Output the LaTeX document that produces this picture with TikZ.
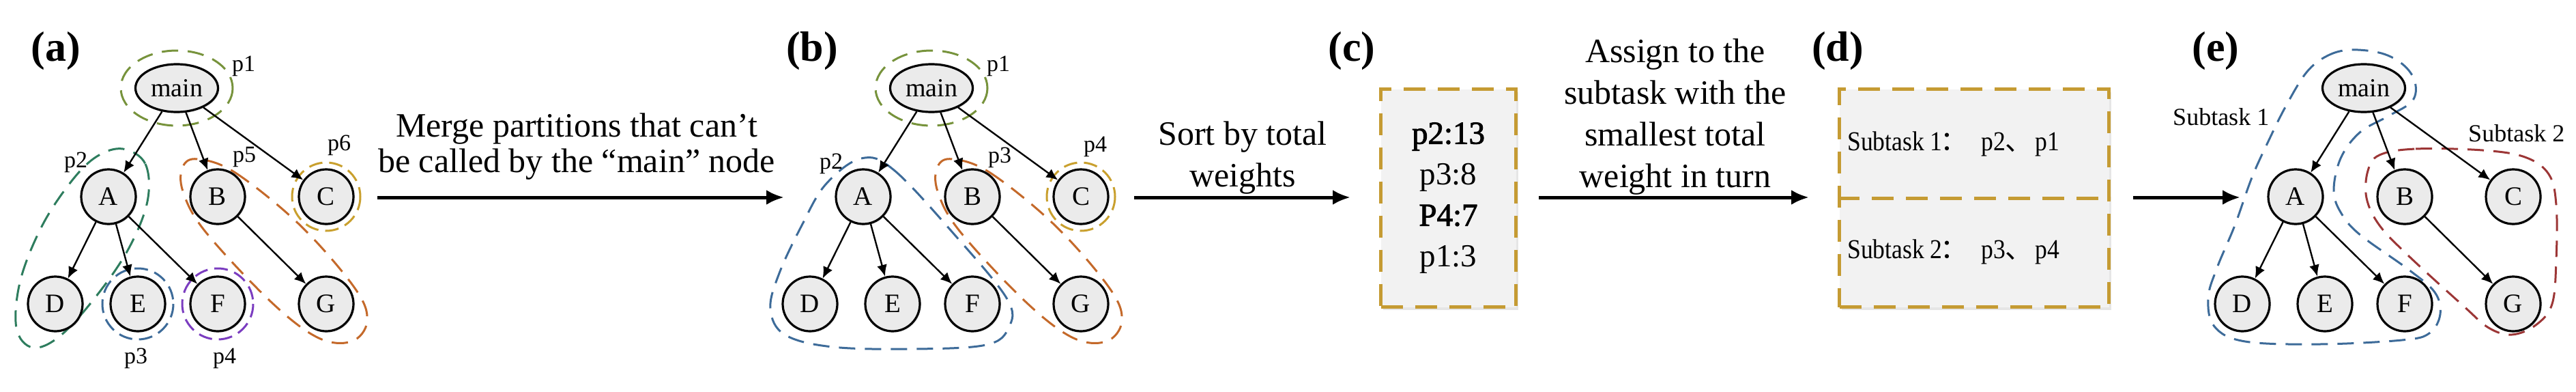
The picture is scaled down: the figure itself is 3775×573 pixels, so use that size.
\documentclass[tikz,border=0pt]{standalone}
\usepackage{fontspec}
\setmainfont{Liberation Serif}
\newfontfamily\cjkfont{Noto Sans CJK SC}
\newfontfamily\condfont[FakeStretch=0.89]{Liberation Serif}
\newfontfamily\heavyfont[FakeBold=2]{Liberation Serif}
\usetikzlibrary{arrows.meta,shapes.geometric,shadows}
\pgfdeclarelayer{bg}
\pgfsetlayers{bg,main}
\definecolor{nodefill}{HTML}{EBEBEB}
\definecolor{olivec}{HTML}{77933C}
\definecolor{greenc}{HTML}{2E7D5E}
\definecolor{bluec}{HTML}{3D6B99}
\definecolor{purplec}{HTML}{7B3DC0}
\definecolor{orangec}{HTML}{C4692A}
\definecolor{goldc}{HTML}{C9A02E}
\definecolor{redc}{HTML}{9C3636}
\definecolor{boxgold}{HTML}{C59B33}
\definecolor{boxfill}{HTML}{F2F2F2}
\newcommand{\drawcallgraph}[2]{%
  \node[mnode] (#1main) at ({259+#2},129) {main};
  \node[gnode] (#1A) at ({159+#2},288) {A};
  \node[gnode] (#1B) at ({319+#2},288) {B};
  \node[gnode] (#1C) at ({478+#2},288) {C};
  \node[gnode] (#1D) at ({81+#2},445) {D};
  \node[gnode] (#1E) at ({202+#2},445) {E};
  \node[gnode] (#1F) at ({319+#2},445) {F};
  \node[gnode] (#1G) at ({478+#2},445) {G};
  \foreach \s/\t in {main/A,main/B,main/C,A/D,A/E,A/F,B/G}
    \draw[edgearrow] (#1\s) -- (#1\t);
}
\newcommand{\subtaskline}[3]{%
  \makebox[136pt][l]{Subtask #1}\makebox[60pt][l]{{\cjkfont ：}}\makebox[35pt][l]{#2}\makebox[44pt][l]{{\cjkfont 、}}#3}
\begin{document}
\begin{tikzpicture}[x=1pt,y=-1pt,
  gnode/.style={circle, draw, line width=3.2pt, fill=nodefill, minimum size=80pt, inner sep=0pt,
    font=\fontsize{39}{39}\selectfont,
    drop shadow={shadow xshift=2pt, shadow yshift=-2pt, opacity=0.18}},
  mnode/.style={ellipse, draw, line width=3.2pt, fill=nodefill, minimum width=121pt, minimum height=70pt,
    inner sep=0pt, font=\fontsize{38}{38}\selectfont,
    drop shadow={shadow xshift=2pt, shadow yshift=-2pt, opacity=0.18}},
  edgearrow/.style={-{Latex[length=17pt,width=15pt]}, line width=2.4pt},
  bigarrow/.style={-{Latex[length=26pt,width=22pt]}, line width=5pt},
  part/.style={line width=3pt, dash pattern=on 24pt off 14pt},
  ring/.style={line width=3pt, dash pattern=on 20pt off 10pt},
  plabel/.style={font=\fontsize{34}{34}\selectfont, inner sep=0pt},
  panel/.style={font=\bfseries\fontsize{62}{62}\selectfont, inner sep=0pt},
  steptext/.style={font=\fontsize{50}{61}\selectfont, align=center, inner sep=0pt},
  gbox/.style={draw=boxgold, dash pattern=on 32pt off 18pt, line width=5pt, fill=boxfill,
    drop shadow={shadow xshift=3pt, shadow yshift=-4pt, opacity=0.2}},
  boxline/.style={draw=boxgold, dash pattern=on 32pt off 18pt, line width=5pt},
  ctext/.style={font=\fontsize{47}{60}\selectfont, align=center, inner sep=0pt},
  dtext/.style={font=\condfont\fontsize{40}{40}\selectfont, inner sep=0pt},
  etext/.style={font=\fontsize{36}{36}\selectfont, inner sep=0pt}
]
\useasboundingbox (0,0) rectangle (3775,573);

% panel labels
\node[panel] (la) at (82,75) {(a)};
\node[panel] (lb) at (1190,75) {(b)};
\node[panel] (lc) at (1981,75) {(c)};
\node[panel] (ld) at (2693,75) {(d)};
\node[panel] (le) at (3247,75) {(e)};

% graphs
\drawcallgraph{a}{0}
\drawcallgraph{b}{1106}
\drawcallgraph{e}{3205}

\begin{pgfonlayer}{bg}
% partitions of (a)
  \draw[part, draw=olivec] (amain.center) ellipse [x radius=82, y radius=55];
  \draw[part, draw=greenc] plot[smooth cycle, tension=0.6] coordinates {
    (180,218) (213,240) (216,295) (188,365) (140,435) (88,492) (48,509) (24,480)
    (30,410) (62,330) (105,265) (142,229)};
  \draw[ring, draw=bluec] (aE.center) circle [radius=52];
  \draw[ring, draw=purplec] (aF.center) circle [radius=52];
  \draw[ring, draw=goldc] (aC.center) circle [radius=50];
  \draw[part, draw=orangec] plot[smooth cycle, tension=0.6] coordinates {
    (290,233) (345,253) (440,330) (520,422) (538,470) (515,500) (465,494)
    (395,440) (300,338) (268,280) (268,244)};
% partitions of (b)
  \draw[part, draw=olivec] (bmain.center) ellipse [x radius=82, y radius=55];
  \draw[ring, draw=goldc] (bC.center) circle [radius=50];
  \draw[part, draw=orangec] plot[smooth cycle, tension=0.6] coordinates {
    (1396,233) (1451,253) (1546,330) (1626,422) (1644,470) (1621,500) (1571,494)
    (1501,440) (1406,338) (1374,280) (1374,244)};
  \draw[part, draw=bluec] plot[smooth cycle, tension=0.6] coordinates {
    (1262,232) (1310,249) (1400,345) (1476,438) (1478,480) (1445,505) (1340,511)
    (1220,508) (1150,490) (1129,452) (1142,400) (1175,330) (1210,270)};
% subtasks of (e)
  \draw[part, draw=bluec] plot[smooth cycle, tension=0.6] coordinates {
    (3380,106) (3410,82) (3444,73) (3490,78) (3522,95) (3539,120) (3535,148)
    (3500,170) (3458,194) (3430,232) (3420,280) (3432,314) (3460,345) (3530,395)
    (3568,428) (3576,460) (3560,488) (3520,498) (3400,504) (3290,500) (3245,478)
    (3236,436) (3249,392) (3275,330) (3300,260) (3325,205) (3350,155)};
  \draw[part, draw=redc] plot[smooth cycle, tension=0.6] coordinates {
    (3487,227) (3540,218) (3638,220) (3700,230) (3735,255) (3746,300) (3746,380)
    (3740,445) (3716,476) (3681,490) (3647,480) (3610,448) (3530,375) (3487,330)
    (3468,290) (3470,250)};
\end{pgfonlayer}

% partition labels
\node[plabel] (ap1) at (357,97) {p1};
\node[plabel] (ap2) at (111,238) {p2};
\node[plabel] (ap5) at (358,230) {p5};
\node[plabel] (ap6) at (497,213) {p6};
\node[plabel] (ap3) at (199,525) {p3};
\node[plabel] (ap4) at (329,525) {p4};
\node[plabel] (bp1) at (1463,97) {p1};
\node[plabel] (bp2) at (1218,240) {p2};
\node[plabel] (bp3) at (1465,231) {p3};
\node[plabel] (bp4) at (1605,215) {p4};
\node[etext, anchor=base west] (es1) at (3184,183) {Subtask 1};
\node[etext, anchor=base west] (es2) at (3617,207) {Subtask 2};

% boxes (c) and (d)
\node[gbox, minimum width=198pt, minimum height=319pt, anchor=north west] (cbox) at (2021,128) {};
\node[ctext] (ctxt) at (cbox.center) {{\heavyfont p2:13}\\p3:8\\{\heavyfont P4:7}\\p1:3};
\node[gbox, minimum width=395pt, minimum height=319pt, anchor=north west] (dbox) at (2693,128) {};
\draw[boxline] (dbox.west) -- (dbox.east);
\node[dtext, anchor=base west] (d1) at (2707,220) {\subtaskline{1}{p2}{p1}};
\node[dtext, anchor=base west] (d2) at (2707,378) {\subtaskline{2}{p3}{p4}};

% step arrows
\coordinate (s1) at (553,289); \coordinate (e1) at (1149,289);
\coordinate (s2) at (1662,289); \coordinate (e2) at (1979,289);
\coordinate (s3) at (2255,289); \coordinate (e3) at (2651,289);
\coordinate (s4) at (3126,289); \coordinate (e4) at (3283,289);
\draw[bigarrow] (s1) -- (e1);
\draw[bigarrow] (s2) -- (e2);
\draw[bigarrow] (s3) -- (e3);
\draw[bigarrow] (s4) -- (e4);
\node[steptext, font=\fontsize{50}{52}\selectfont] (t1) at (845,215) {Merge partitions that can’t\\be called by the “main” node};
\node[steptext] (t2) at (1821,231) {Sort by total\\weights};
\node[steptext] (t3) at (2455,171) {Assign to the\\subtask with the\\smallest total\\weight in turn};
\end{tikzpicture}
\end{document}
